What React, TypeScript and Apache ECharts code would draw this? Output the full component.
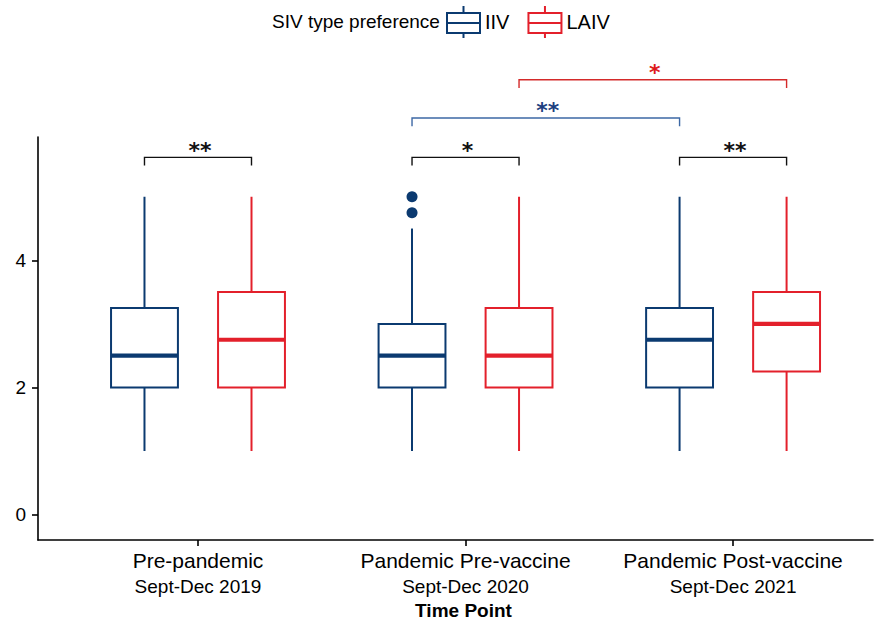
import React, { useEffect, useRef } from 'react';
import * as echarts from 'echarts';

// ---- data ----
const timePoints = ['Pre-pandemic', 'Pandemic Pre-vaccine', 'Pandemic Post-vaccine'];
const periods = ['Sept-Dec 2019', 'Sept-Dec 2020', 'Sept-Dec 2021'];
const groupPositions = [1, 2, 3];
const seriesNames = ['IIV', 'LAIV'];
// [min, Q1, median, Q3, max]
const iivStats = [
  [1, 2, 2.5, 3.25, 5],
  [1, 2, 2.5, 3, 4.5],
  [1, 2, 2.75, 3.25, 5],
];
const laivStats = [
  [1, 2, 2.75, 3.5, 5],
  [1, 2, 2.5, 3.25, 5],
  [1, 2.25, 3, 3.5, 5],
];
const iivOutlierGroups = [2, 2];
const iivOutlierValues = [5, 4.75];
const yTicks = [0, 2, 4];
// significance comparisons: [group, seriesIndex]
const bracketFrom = [[1, 0], [2, 0], [3, 0], [2, 0], [2, 1]];
const bracketTo = [[1, 1], [2, 1], [3, 1], [3, 0], [3, 1]];
const bracketLabels = ['**', '*', '**', '**', '*'];
const bracketLevels = [5.62, 5.62, 5.62, 6.24, 6.84];

// ---- styles ----
const IIV_COLOR = '#0b3a70';
const LAIV_COLOR = '#e3202b';
const SERIES_COLORS = [IIV_COLOR, LAIV_COLOR];
const BRACKET_LINE_COLORS = ['#111', '#111', '#111', '#3d68a5', '#d42a2a'];
const BRACKET_TEXT_COLORS = ['#111', '#111', '#111', '#1d3f7f', '#dd1a1a'];
const DODGE = [-0.2, 0.2];
const BOX_WIDTH = 0.25;
const BRACKET_DROP = 0.13;
const FONT = '"Liberation Sans", Arial, Helvetica, sans-serif';
const LEGEND_ICON =
  'path://M0,7L33,7L33,27L0,27ZM0,17L33,17M16.5,0L16.5,7M16.5,27L16.5,32';

function makeBoxRender(seriesIdx: number) {
  const color = SERIES_COLORS[seriesIdx];
  const offset = DODGE[seriesIdx];
  return (params: any, api: any) => {
    const x = api.value(0) + offset;
    const mn = api.coord([x, api.value(1)]);
    const q1 = api.coord([x, api.value(2)]);
    const md = api.coord([x, api.value(3)]);
    const q3 = api.coord([x, api.value(4)]);
    const mx = api.coord([x, api.value(5)]);
    const hw = api.size([BOX_WIDTH, 0])[0] / 2;
    const cx = md[0];
    return {
      type: 'group',
      children: [
        {
          type: 'line',
          shape: { x1: cx, y1: q3[1], x2: cx, y2: mx[1] },
          style: { stroke: color, lineWidth: 2 },
        },
        {
          type: 'line',
          shape: { x1: cx, y1: q1[1], x2: cx, y2: mn[1] },
          style: { stroke: color, lineWidth: 2 },
        },
        {
          type: 'rect',
          shape: { x: cx - hw, y: q3[1], width: hw * 2, height: q1[1] - q3[1] },
          style: { fill: '#fff', stroke: color, lineWidth: 2 },
        },
        {
          type: 'line',
          shape: { x1: cx - hw, y1: md[1], x2: cx + hw, y2: md[1] },
          style: { stroke: color, lineWidth: 4.2 },
        },
      ],
    };
  };
}

function bracketRender(params: any, api: any) {
  const i = params.dataIndex;
  const p1 = api.coord([api.value(0), api.value(2)]);
  const p2 = api.coord([api.value(1), api.value(2)]);
  const drop = api.size([0, BRACKET_DROP])[1];
  return {
    type: 'group',
    children: [
      {
        type: 'polyline',
        shape: {
          points: [
            [p1[0], p1[1] + drop],
            [p1[0], p1[1]],
            [p2[0], p2[1]],
            [p2[0], p2[1] + drop],
          ],
        },
        style: { stroke: BRACKET_LINE_COLORS[i], lineWidth: 1.4, fill: null },
      },
      {
        type: 'text',
        x: (p1[0] + p2[0]) / 2 + 2,
        y: p1[1] - 7,
        style: {
          text: bracketLabels[i],
          fill: BRACKET_TEXT_COLORS[i],
          fontSize: 22,
          fontWeight: 'bold',
          fontFamily: '"DejaVu Sans", sans-serif',
          align: 'center',
          verticalAlign: 'middle',
        },
      },
    ],
  };
}

export default function App() {
  const ref = useRef<HTMLDivElement>(null);
  useEffect(() => {
    if (!ref.current) return;
    const chart = echarts.init(ref.current, undefined, { renderer: 'svg' });

    const iivData = groupPositions.map((g, k) => [g, ...iivStats[k]]);
    const laivData = groupPositions.map((g, k) => [g, ...laivStats[k]]);
    const outlierData = iivOutlierGroups.map((g, k) => [g + DODGE[0], iivOutlierValues[k]]);
    const bracketData = bracketLabels.map((_, k) => [
      bracketFrom[k][0] + DODGE[bracketFrom[k][1]],
      bracketTo[k][0] + DODGE[bracketTo[k][1]],
      bracketLevels[k],
    ]);

    chart.setOption({
      animation: false,
      backgroundColor: '#fff',
      textStyle: { fontFamily: FONT },
      title: {
        text: 'SIV type preference',
        left: 272,
        top: 12,
        padding: 0,
        textStyle: { fontSize: 19, fontWeight: 'normal', color: '#000', fontFamily: FONT },
      },
      legend: {
        left: 446,
        top: 5,
        padding: 0,
        itemWidth: 33,
        itemHeight: 32,
        itemGap: 18,
        selectedMode: false,
        textStyle: { fontSize: 20, color: '#000', fontFamily: FONT },
        data: seriesNames.map((n, k) => ({
          name: n,
          icon: LEGEND_ICON,
          itemStyle: { color: '#fff', borderColor: SERIES_COLORS[k], borderWidth: 2 },
        })),
      },
      grid: { left: 38, right: 4, top: 137, bottom: 82 },
      xAxis: {
        type: 'value',
        min: 0.402,
        max: 3.523,
        splitLine: { show: false },
        axisLine: { onZero: false, lineStyle: { color: '#000', width: 1.6 } },
        axisTick: { customValues: groupPositions, length: 6, lineStyle: { color: '#000', width: 1.6 } },
        axisLabel: {
          customValues: groupPositions,
          margin: 8,
          formatter: (v: number) => {
            const idx = groupPositions.indexOf(Math.round(v));
            return idx < 0 ? '' : `{a|${timePoints[idx]}}\n{b|${periods[idx]}}`;
          },
          rich: {
            a: { fontSize: 21, lineHeight: 24, color: '#000', fontFamily: FONT },
            b: { fontSize: 19, lineHeight: 29, color: '#000', fontFamily: FONT },
          },
        },
        name: 'Time Point',
        nameLocation: 'middle',
        nameGap: 58,
        nameTextStyle: {
          fontSize: 19,
          fontWeight: 'bold',
          color: '#000',
          fontFamily: FONT,
          padding: [3, 0, 0, 16],
        },
      },
      yAxis: {
        type: 'value',
        min: -0.4,
        max: 5.94,
        splitLine: { show: false },
        axisLine: { show: true, onZero: false, lineStyle: { color: '#000', width: 1.6 } },
        axisTick: { show: true, customValues: yTicks, length: 6, lineStyle: { color: '#000', width: 1.6 } },
        axisLabel: { customValues: yTicks, margin: 12, fontSize: 19, color: '#000', fontFamily: FONT },
      },
      series: [
        {
          name: 'IIV',
          type: 'custom',
          renderItem: makeBoxRender(0),
          itemStyle: { color: IIV_COLOR },
          encode: { x: 0, y: [1, 2, 3, 4, 5] },
          data: iivData,
        },
        {
          name: 'LAIV',
          type: 'custom',
          renderItem: makeBoxRender(1),
          itemStyle: { color: LAIV_COLOR },
          encode: { x: 0, y: [1, 2, 3, 4, 5] },
          data: laivData,
        },
        {
          name: 'IIV outliers',
          type: 'scatter',
          symbol: 'circle',
          symbolSize: 11,
          itemStyle: { color: IIV_COLOR, opacity: 1 },
          data: outlierData,
        },
        {
          name: 'significance',
          type: 'custom',
          clip: false,
          renderItem: bracketRender,
          encode: { x: [0, 1], y: 2 },
          data: bracketData,
          z: 5,
        },
      ],
    });
    return () => chart.dispose();
  }, []);
  return (
    <div
      ref={ref}
      style={{ position: 'fixed', left: 0, top: 0, width: 877, height: 625, background: '#fff' }}
    />
  );
}
